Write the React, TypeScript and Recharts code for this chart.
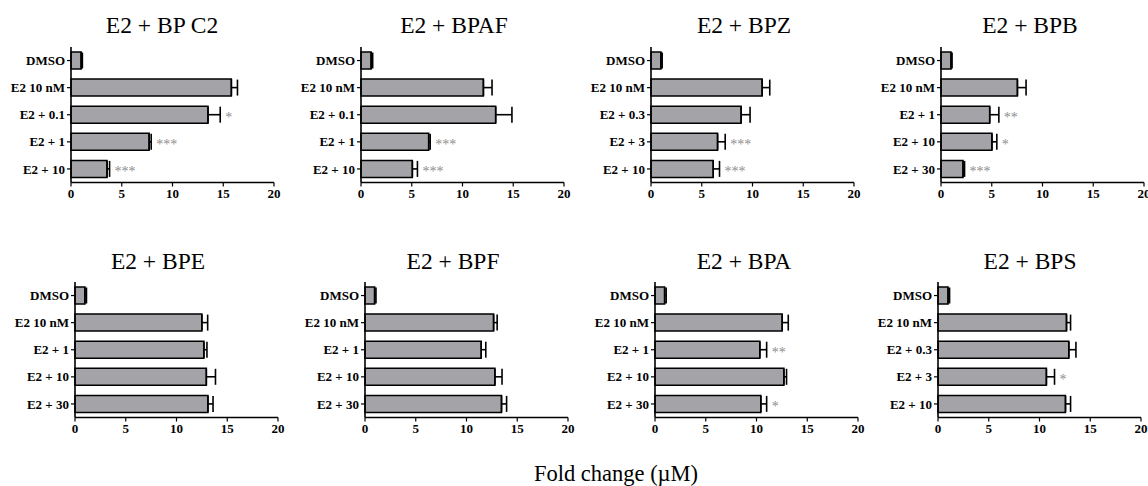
import React from 'react';
import { BarChart, Bar, XAxis, YAxis, ErrorBar, LabelList } from 'recharts';

// ---------- DATA ----------
const titles = ['E2 + BP C2', 'E2 + BPAF', 'E2 + BPZ', 'E2 + BPB', 'E2 + BPE', 'E2 + BPF', 'E2 + BPA', 'E2 + BPS'];

const catsBPC2 = ['DMSO', 'E2 10 nM', 'E2 + 0.1', 'E2 + 1', 'E2 + 10'];
const valsBPC2 = [1.0, 15.8, 13.5, 7.7, 3.55];
const errsBPC2 = [0.12, 0.6, 1.2, 0.2, 0.25];
const sigBPC2 = ['', '', '*', '***', '***'];

const catsBPAF = ['DMSO', 'E2 10 nM', 'E2 + 0.1', 'E2 + 1', 'E2 + 10'];
const valsBPAF = [1.0, 12.06, 13.27, 6.67, 5.06];
const errsBPAF = [0.15, 0.85, 1.6, 0.15, 0.5];
const sigBPAF = ['', '', '', '***', '***'];

const catsBPZ = ['DMSO', 'E2 10 nM', 'E2 + 0.3', 'E2 + 3', 'E2 + 10'];
const valsBPZ = [0.98, 10.95, 8.88, 6.56, 6.13];
const errsBPZ = [0.12, 0.75, 0.88, 0.75, 0.62];
const sigBPZ = ['', '', '', '***', '***'];

const catsBPB = ['DMSO', 'E2 10 nM', 'E2 + 1', 'E2 + 10', 'E2 + 30'];
const valsBPB = [0.99, 7.53, 4.8, 5.02, 2.17];
const errsBPB = [0.1, 0.85, 0.9, 0.48, 0.15];
const sigBPB = ['', '', '**', '*', '***'];

const catsBPE = ['DMSO', 'E2 10 nM', 'E2 + 1', 'E2 + 10', 'E2 + 30'];
const valsBPE = [0.98, 12.5, 12.7, 12.94, 13.1];
const errsBPE = [0.15, 0.57, 0.3, 0.9, 0.5];
const sigBPE = ['', '', '', '', ''];

const catsBPF = ['DMSO', 'E2 10 nM', 'E2 + 1', 'E2 + 10', 'E2 + 30'];
const valsBPF = [0.95, 12.67, 11.45, 12.8, 13.45];
const errsBPF = [0.13, 0.35, 0.45, 0.7, 0.5];
const sigBPF = ['', '', '', '', ''];

const catsBPA = ['DMSO', 'E2 10 nM', 'E2 + 1', 'E2 + 10', 'E2 + 30'];
const valsBPA = [0.95, 12.53, 10.33, 12.7, 10.43];
const errsBPA = [0.15, 0.6, 0.67, 0.26, 0.57];
const sigBPA = ['', '', '**', '', '*'];

const catsBPS = ['DMSO', 'E2 10 nM', 'E2 + 0.3', 'E2 + 3', 'E2 + 10'];
const valsBPS = [0.99, 12.66, 12.89, 10.68, 12.56];
const errsBPS = [0.15, 0.4, 0.7, 0.8, 0.5];
const sigBPS = ['', '', '', '*', ''];

const xTicks = [0, 5, 10, 15, 20];
const axisTitle = 'Fold change (\u00B5M)';

const panelCats = [catsBPC2, catsBPAF, catsBPZ, catsBPB, catsBPE, catsBPF, catsBPA, catsBPS];
const panelVals = [valsBPC2, valsBPAF, valsBPZ, valsBPB, valsBPE, valsBPF, valsBPA, valsBPS];
const panelErrs = [errsBPC2, errsBPAF, errsBPZ, errsBPB, errsBPE, errsBPF, errsBPA, errsBPS];
const panelSig = [sigBPC2, sigBPAF, sigBPZ, sigBPB, sigBPE, sigBPF, sigBPA, sigBPS];

// ---------- LAYOUT (positions only) ----------
const axisXs = [71, 361.3, 651, 941.3, 74.7, 364.7, 654.7, 937.7];
const titleXs = [162, 454, 744, 1030, 158, 453, 744, 1030];
const rowPlotTop = [46.5, 282];
const rowTitleBaseline = [33.3, 269.3];
const YW = 90;
const PLOT_W = 203;
const PLOT_H = 135.5;
const M_TOP = 10;
const M_RIGHT = 14;
const XAX_H = 30;

const FONT = '"Liberation Serif", "Times New Roman", serif';
const BAR_FILL = '#a3a3a8';
const STAR_FILL = '#8e8e8e';

function makeStarLabel(vals: number[], errs: number[], sig: string[]) {
  return (props: any) => {
    const { x, y, width, height, index } = props;
    const s = sig[index];
    if (!s) return null;
    const v = vals[index];
    const pxPerUnit = width / v;
    const ex = x + (v + errs[index]) * pxPerUnit + 5;
    return (
      <text x={ex} y={y + height / 2 + 7} fill={STAR_FILL} fontSize={14} fontFamily={FONT} textAnchor="start">
        {s}
      </text>
    );
  };
}

function Panel({ i }: { i: number }) {
  const row = i < 4 ? 0 : 1;
  const data = panelCats[i].map((c, k) => ({
    name: c,
    value: panelVals[i][k],
    err: [0, panelErrs[i][k]],
  }));
  const left = axisXs[i] - YW;
  const top = rowPlotTop[row] - M_TOP;
  return (
    <div style={{ position: 'absolute', left, top }}>
      <BarChart
        width={YW + PLOT_W + M_RIGHT}
        height={M_TOP + PLOT_H + XAX_H}
        data={data}
        layout="vertical"
        margin={{ top: M_TOP, right: M_RIGHT, left: 0, bottom: 0 }}
      >
        <XAxis
          type="number"
          domain={[0, 20]}
          ticks={xTicks}
          interval={0}
          height={XAX_H}
          axisLine={{ stroke: '#000', strokeWidth: 1.6 }}
          tickLine={{ stroke: '#000', strokeWidth: 1.2 }}
          tickSize={4}
          tick={{ fill: '#000', fontSize: 13, fontWeight: 'bold', fontFamily: FONT }}
        />
        <YAxis
          type="category"
          dataKey="name"
          width={YW}
          interval={0}
          axisLine={{ stroke: '#000', strokeWidth: 1.6 }}
          tickLine={{ stroke: '#000', strokeWidth: 1.2 }}
          tickSize={4}
          tick={{ fill: '#000', fontSize: 13, fontWeight: 'bold', fontFamily: FONT }}
        />
        <Bar dataKey="value" fill={BAR_FILL} stroke="#000" strokeWidth={1.5} barSize={17} isAnimationActive={false}>
          <ErrorBar dataKey="err" direction="x" width={8} stroke="#000" strokeWidth={1.6} />
          <LabelList dataKey="value" content={makeStarLabel(panelVals[i], panelErrs[i], panelSig[i])} />
        </Bar>
      </BarChart>
    </div>
  );
}

export default function App() {
  return (
    <div style={{ position: 'absolute', left: 0, top: 0, width: 1148, height: 486, background: '#fff', overflow: 'hidden' }}>
      {titles.map((_, i) => (
        <Panel key={i} i={i} />
      ))}
      <svg width={1148} height={486} style={{ position: 'absolute', left: 0, top: 0, pointerEvents: 'none' }}>
        {titles.map((t, i) => (
          <text
            key={t}
            x={titleXs[i]}
            y={rowTitleBaseline[i < 4 ? 0 : 1]}
            textAnchor="middle"
            fontFamily={FONT}
            fontSize={23.5}
            fill="#000"
          >
            {t}
          </text>
        ))}
        <text x={616} y={481} textAnchor="middle" fontFamily={FONT} fontSize={22.5} fill="#000">
          {axisTitle}
        </text>
      </svg>
    </div>
  );
}
